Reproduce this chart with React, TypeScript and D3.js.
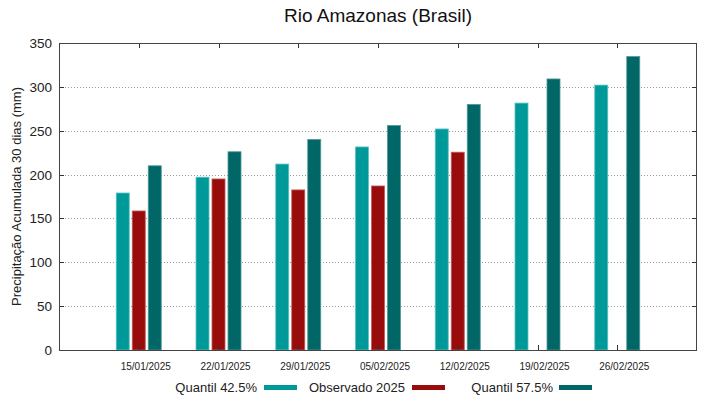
import React from "react";
import * as d3 from "d3";

const categories = ["15/01/2025", "22/01/2025", "29/01/2025", "05/02/2025", "12/02/2025", "19/02/2025", "26/02/2025"];
const seriesNames = ["Quantil 42.5%", "Observado 2025", "Quantil 57.5%"];
const q425 = [179, 197, 212, 231.5, 252, 281.5, 302];
const obs2025: (number | null)[] = [158.5, 195, 182.5, 187, 225.5, null, null];
const q575 = [210, 226, 240, 256, 280, 309, 334.5];
const yTicks = [0, 50, 100, 150, 200, 250, 300, 350];
const colors = ["#009999", "#990c0c", "#006666"];
const strokes = ["#5cc4c4", "#c45a5a", "#4f9a9a"];

const W = 719, H = 399;
const L = 59, R = 697, T = 43, B = 350;

export default function App() {
  const x = d3.scaleLinear().domain([-1, categories.length]).range([L, R]);
  const y = d3.scaleLinear().domain([0, 350]).range([B, T]);
  const inner = d3.scaleBand<string>().domain(seriesNames).range([-22.5, 22.5]).paddingInner(0.1875).paddingOuter(0);
  const data = [q425, obs2025, q575];
  const font = "'Liberation Sans', Arial, sans-serif";

  const legendItems = [
    { name: seriesNames[0], textEnd: 257, s0: 264, s1: 297 },
    { name: seriesNames[1], textEnd: 405, s0: 412, s1: 445 },
    { name: seriesNames[2], textEnd: 553, s0: 559, s1: 592 },
  ];

  return (
    <svg width={W} height={H} style={{ position: "absolute", left: 0, top: 0, background: "#fff" }} fontFamily={font}>
      <rect x={0} y={0} width={W} height={H} fill="#fff" />
      <text x={378} y={22} textAnchor="middle" fontSize={19} fill="#111">Rio Amazonas (Brasil)</text>
      {/* grid */}
      {yTicks.filter(t => t > 0 && t < 350).map(t => (
        <line key={"g" + t} x1={L} x2={R} y1={Math.round(y(t)) + 0.5} y2={Math.round(y(t)) + 0.5}
          stroke="#999" strokeWidth={1} strokeDasharray="1,2" />
      ))}
      {/* bars */}
      {data.map((vals, si) => vals.map((v, ci) => v == null ? null : (
        <rect key={`b${si}-${ci}`} x={x(ci) + (inner(seriesNames[si]) as number)} y={y(v)}
          width={inner.bandwidth()} height={B - y(v)} fill={colors[si]} stroke={strokes[si]} strokeWidth={0.8} />
      )))}
      {/* ticks */}
      {categories.map((c, i) => (
        <g key={"xt" + i}>
          <line x1={Math.round(x(i)) + 0.5} x2={Math.round(x(i)) + 0.5} y1={B} y2={B - 5} stroke="#333" />
          <line x1={Math.round(x(i)) + 0.5} x2={Math.round(x(i)) + 0.5} y1={T} y2={T + 5} stroke="#333" />
          <text x={x(i) + 7} y={370} textAnchor="middle" fontSize={10} fill="#222">{c}</text>
        </g>
      ))}
      {yTicks.map(t => (
        <g key={"yt" + t}>
          <line x1={L} x2={L + 5} y1={Math.round(y(t)) + 0.5} y2={Math.round(y(t)) + 0.5} stroke="#333" />
          <line x1={R - 5} x2={R} y1={Math.round(y(t)) + 0.5} y2={Math.round(y(t)) + 0.5} stroke="#333" />
          <text x={52} y={y(t) + 5} textAnchor="end" fontSize={13.5} fill="#222">{t}</text>
        </g>
      ))}
      {/* border */}
      <rect x={L + 0.5} y={T + 0.5} width={R - L - 1} height={B - T} fill="none" stroke="#444" strokeWidth={1} />
      {/* y label */}
      <text transform={`translate(21,${(T + B) / 2}) rotate(-90)`} textAnchor="middle" fontSize={13} fill="#222">
        Precipitação Acumulada 30 dias (mm)
      </text>
      {/* legend */}
      {legendItems.map((it, i) => (
        <g key={"lg" + i}>
          <text x={it.textEnd} y={392} textAnchor="end" fontSize={13} fill="#222">{it.name}</text>
          <rect x={it.s0} y={385} width={it.s1 - it.s0} height={5} fill={colors[i]} />
        </g>
      ))}
    </svg>
  );
}
